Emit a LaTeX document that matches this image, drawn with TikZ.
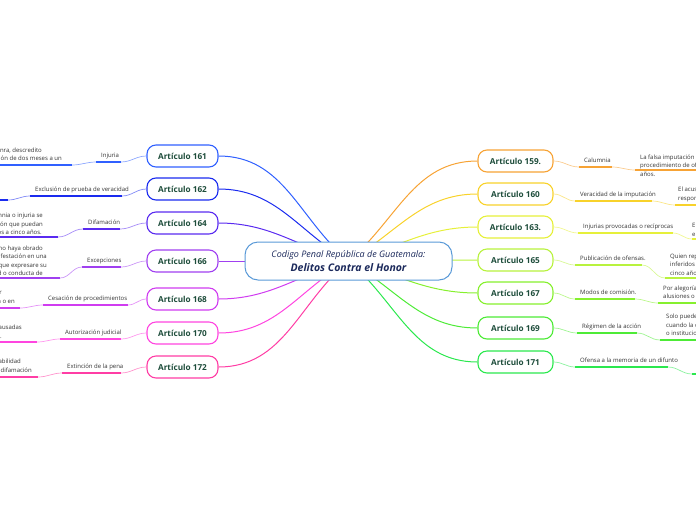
\documentclass[tikz,border=0pt]{standalone}
\usepackage{fontspec}
\setmainfont{Open Sans}
\pgfdeclarelayer{bg}
\pgfsetlayers{bg,main}
\definecolor{c161}{HTML}{3060FF}
\definecolor{c162}{HTML}{1A2BEF}
\definecolor{c164}{HTML}{5A2BF0}
\definecolor{c166}{HTML}{A040F0}
\definecolor{c168}{HTML}{D03CF0}
\definecolor{c170}{HTML}{FF45E0}
\definecolor{c172}{HTML}{FF3DA5}
\definecolor{c159}{HTML}{F7A335}
\definecolor{c160}{HTML}{F8D22B}
\definecolor{c163}{HTML}{E6F03A}
\definecolor{c165}{HTML}{B8F23E}
\definecolor{c167}{HTML}{86F02E}
\definecolor{c169}{HTML}{4DEB36}
\definecolor{c171}{HTML}{2BE84E}
\definecolor{cbord}{HTML}{5A9AD8}
\definecolor{navy}{HTML}{1C2A5C}
\definecolor{artc}{HTML}{1E4D3B}
\definecolor{txtc}{HTML}{333333}
\begin{document}
\begin{tikzpicture}[x=1pt,y=-1pt,
  centre/.style={draw=cbord, line width=1pt, fill=white, rounded corners=13pt,
    minimum width=207pt, minimum height=38pt, inner sep=0pt, align=center, text=navy},
  art/.style={draw=#1, line width=1.1pt, fill=white, rounded corners=9pt,
    minimum width=71pt, minimum height=22pt, inner sep=0pt,
    font=\fontsize{8.2}{10}\selectfont\bfseries, text=artc},
  artR/.style={art=#1, minimum width=75pt},
  mainln/.style={line width=1pt},
  sub/.style={line width=0.7pt, draw=#1!55},
  ul/.style={line width=1.3pt, draw=#1},
  leafln/.style={line width=1.6pt, draw=#1},
  lbl/.style={inner sep=0pt, anchor=base west, text=txtc, font=\fontsize{6}{8.5}\selectfont},
  leafL/.style={inner sep=0pt, anchor=east, align=right, text=txtc, font=\fontsize{6}{8.5}\selectfont},
  leafR/.style={inner sep=0pt, anchor=west, align=left, text=txtc, font=\fontsize{6}{8.5}\selectfont}
]
\useasboundingbox (0,0) rectangle (696,520);

% central node
\node[centre] (c) at (348.5,261) {{\fontsize{9}{11}\selectfont\itshape Codigo Penal República de Guatemala:}\\[2pt]{\fontsize{10.5}{12}\selectfont\bfseries\itshape Delitos Contra el Honor}};

% left article nodes
\node[art=c161] (n161) at (182.5,156) {Artículo 161};
\node[art=c162] (n162) at (182.5,189) {Artículo 162};
\node[art=c164] (n164) at (182.5,223) {Artículo 164};
\node[art=c166] (n166) at (182.5,261) {Artículo 166};
\node[art=c168] (n168) at (182.5,299) {Artículo 168};
\node[art=c170] (n170) at (182.5,333) {Artículo 170};
\node[art=c172] (n172) at (182.5,367) {Artículo 172};

% right article nodes
\node[artR=c159] (n159) at (515.5,161) {Artículo 159.};
\node[artR=c160] (n160) at (515.5,194) {Artículo 160};
\node[artR=c163] (n163) at (515.5,227) {Artículo 163.};
\node[artR=c165] (n165) at (515.5,260) {Artículo 165};
\node[artR=c167] (n167) at (515.5,293) {Artículo 167};
\node[artR=c169] (n169) at (515.5,328) {Artículo 169};
\node[artR=c171] (n171) at (515.5,362) {Artículo 171};

% underline end coordinates (left)
\coordinate (a161) at (121,162); \coordinate (b161) at (96,162);
\coordinate (f161) at (72,165);  \coordinate (g161) at (-5,165);
\coordinate (a162) at (122,196); \coordinate (b162) at (30,196);
\coordinate (f162) at (8,200);   \coordinate (g162) at (-5,200);
\coordinate (a164) at (120,229); \coordinate (b164) at (83,229);
\coordinate (f164) at (58,237);  \coordinate (g164) at (-5,237);
\coordinate (a166) at (121,267); \coordinate (b166) at (82,267);
\coordinate (f166) at (60,278);  \coordinate (g166) at (-5,278);
\coordinate (a168) at (128,305); \coordinate (b168) at (43,305);
\coordinate (f168) at (20,308);  \coordinate (g168) at (-5,308);
\coordinate (a170) at (121,339); \coordinate (b170) at (60,339);
\coordinate (f170) at (37,342);  \coordinate (g170) at (-5,342);
\coordinate (a172) at (121,373); \coordinate (b172) at (62,373);
\coordinate (f172) at (38,377);  \coordinate (g172) at (-5,377);
% (right)
\coordinate (a159) at (579,167); \coordinate (b159) at (612,167);
\coordinate (f159) at (635,170); \coordinate (g159) at (701,170);
\coordinate (a160) at (575,201); \coordinate (b160) at (652,201);
\coordinate (f160) at (675,205); \coordinate (g160) at (701,205);
\coordinate (a163) at (578,233); \coordinate (b163) at (673,233);
\coordinate (f163) at (692,239); \coordinate (g163) at (701,239);
\coordinate (a165) at (575,265); \coordinate (b165) at (642,265);
\coordinate (f165) at (665,278); \coordinate (g165) at (701,278);
\coordinate (a167) at (575,299); \coordinate (b167) at (635,299);
\coordinate (f167) at (658,303); \coordinate (g167) at (701,303);
\coordinate (a169) at (577,333); \coordinate (b169) at (637,333);
\coordinate (f169) at (660,340); \coordinate (g169) at (701,340);
\coordinate (a171) at (575,367); \coordinate (b171) at (668,367);
\coordinate (f171) at (692,374); \coordinate (g171) at (701,374);

\begin{pgfonlayer}{bg}
% centre connectors
\draw[mainln,c161] (n161.east) to[out=0,in=140] (c.center);
\draw[mainln,c162] (n162.east) to[out=0,in=150] (c.center);
\draw[mainln,c164] (n164.east) to[out=0,in=165] (c.center);
\draw[mainln,c166] (n166.east) -- (c.center);
\draw[mainln,c168] (n168.east) to[out=0,in=195] (c.center);
\draw[mainln,c170] (n170.east) to[out=0,in=210] (c.center);
\draw[mainln,c172] (n172.east) to[out=0,in=220] (c.center);
\draw[mainln,c159] (n159.west) to[out=180,in=40] (c.center);
\draw[mainln,c160] (n160.west) to[out=180,in=30] (c.center);
\draw[mainln,c163] (n163.west) to[out=180,in=15] (c.center);
\draw[mainln,c165] (n165.west) -- (c.center);
\draw[mainln,c167] (n167.west) to[out=180,in=-15] (c.center);
\draw[mainln,c169] (n169.west) to[out=180,in=-30] (c.center);
\draw[mainln,c171] (n171.west) to[out=180,in=-40] (c.center);
\end{pgfonlayer}

% left sub-branches
\foreach \k in {161,162,164,166,168,170,172}{
  \draw[sub=c\k] (n\k.west) to[out=180,in=0] (a\k);
  \draw[ul=c\k] (a\k) -- (b\k);
  \draw[sub=c\k] (b\k) to[out=180,in=0] (f\k);
  \draw[leafln=c\k] (f\k) -- (g\k);
}
% right sub-branches
\foreach \k in {159,160,163,165,167,169,171}{
  \draw[sub=c\k] (n\k.east) to[out=0,in=180] (a\k);
  \draw[ul=c\k] (a\k) -- (b\k);
  \draw[sub=c\k] (b\k) to[out=0,in=180] (f\k);
  \draw[leafln=c\k] (f\k) -- (g\k);
}

% labels left
\node[lbl] (t161) at (101,157.5) {Injuria};
\node[lbl] (t162) at (35,191.5) {Exclusión de prueba de veracidad};
\node[lbl] (t164) at (88,224.5) {Difamación};
\node[lbl] (t166) at (87,262.5) {Excepciones};
\node[lbl] (t168) at (48,300.5) {Cesación de procedimientos};
\node[lbl] (t170) at (65,334.5) {Autorización judicial};
\node[lbl] (t172) at (67,368.5) {Extinción de la pena};
% labels right
\node[lbl] (t159) at (584,162.5) {Calumnia};
\node[lbl] (t160) at (580,196.5) {Veracidad de la imputación};
\node[lbl] (t163) at (583,228.5) {Injurias provocadas o recíprocas};
\node[lbl] (t165) at (580,260.5) {Publicación de ofensas.};
\node[lbl] (t167) at (580,294.5) {Modos de comisión.};
\node[lbl] (t169) at (582,328.5) {Régimen de la acción};
\node[lbl] (t171) at (580,362.5) {Ofensa a la memoria de un difunto};

% leaf texts left (cut by the page edge)
\node[leafL] (x161) at (62,155) {Toda expresión o acción ejecutada en deshonra, descredito\hspace*{20pt}\\o menosprecio de otra persona, con prisión de dos meses a un};
\node[leafL] (x164) at (43,224.5) {Cuando las imputaciones constitutivas de calumnia o injuria se\\hicieren en forma o por medios de divulgación que puedan\\provocar odio o descrédito, con prisión de dos a cinco años.\hspace*{1pt}};
\node[leafL] (x166) at (47,261.5) {No comete delito quien manifestare su opinión y no haya obrado\hspace*{4pt}\\con ánimo de ofender, ni quien emita su manifestación en una\hspace*{1pt}\\crítica literaria, artística o científica, o que expresare su\\juicio sobre la capacidad o conducta de\hspace*{4pt}};
\node[leafL] (x168) at (15,297.5) {La acción penal cesará cuando el ofensor se retracte antes de contestar\hspace*{13pt}\\la querella o en};
\node[leafL] (x170) at (22,332.5) {Nadie podrá deducir acción por calumnias o injurias causadas\\en juicio sin previa autorización judicial.\hspace*{20pt}};
\node[leafL] (x172) at (32,366.5) {El perdón del ofendido extingue la responsabilidad\hspace*{11pt}\\penal por calumnia, injuria o difamación};
% leaf texts right (cut by the page edge)
\node[leafR] (x159) at (640,165.5) {La falsa imputación de un delito de los que dan lugar a\\procedimiento de oficio, con prisión de cuatro meses a dos\\años.};
\node[leafR] (x160) at (678,194.5) {El acusado de calumnia quedará exento de toda\\responsabilidad penal probando la veracidad de la imputación.};
\node[leafR] (x163) at (692,230.5) {En caso de injurias provocadas o recíprocas\\el juez podrá eximir de pena a las partes.};
\node[leafR] (x165) at (670,264.5) {Quien reprodujere injurias o calumnias\\inferidos por otro, será sancionado con prisión de uno a\\cinco años.};
\node[leafR] (x167) at (663,293) {Por alegorías, caricaturas, emblemas o\\alusiones o cualquier otro medio.};
\node[leafR] (x169) at (666,325) {Solo puede procederse por acusación de la parte agraviada,\\cuando la calumnia o injuria sea contra funcionarios\\o instituciones del Estado.};
\end{tikzpicture}
\end{document}
